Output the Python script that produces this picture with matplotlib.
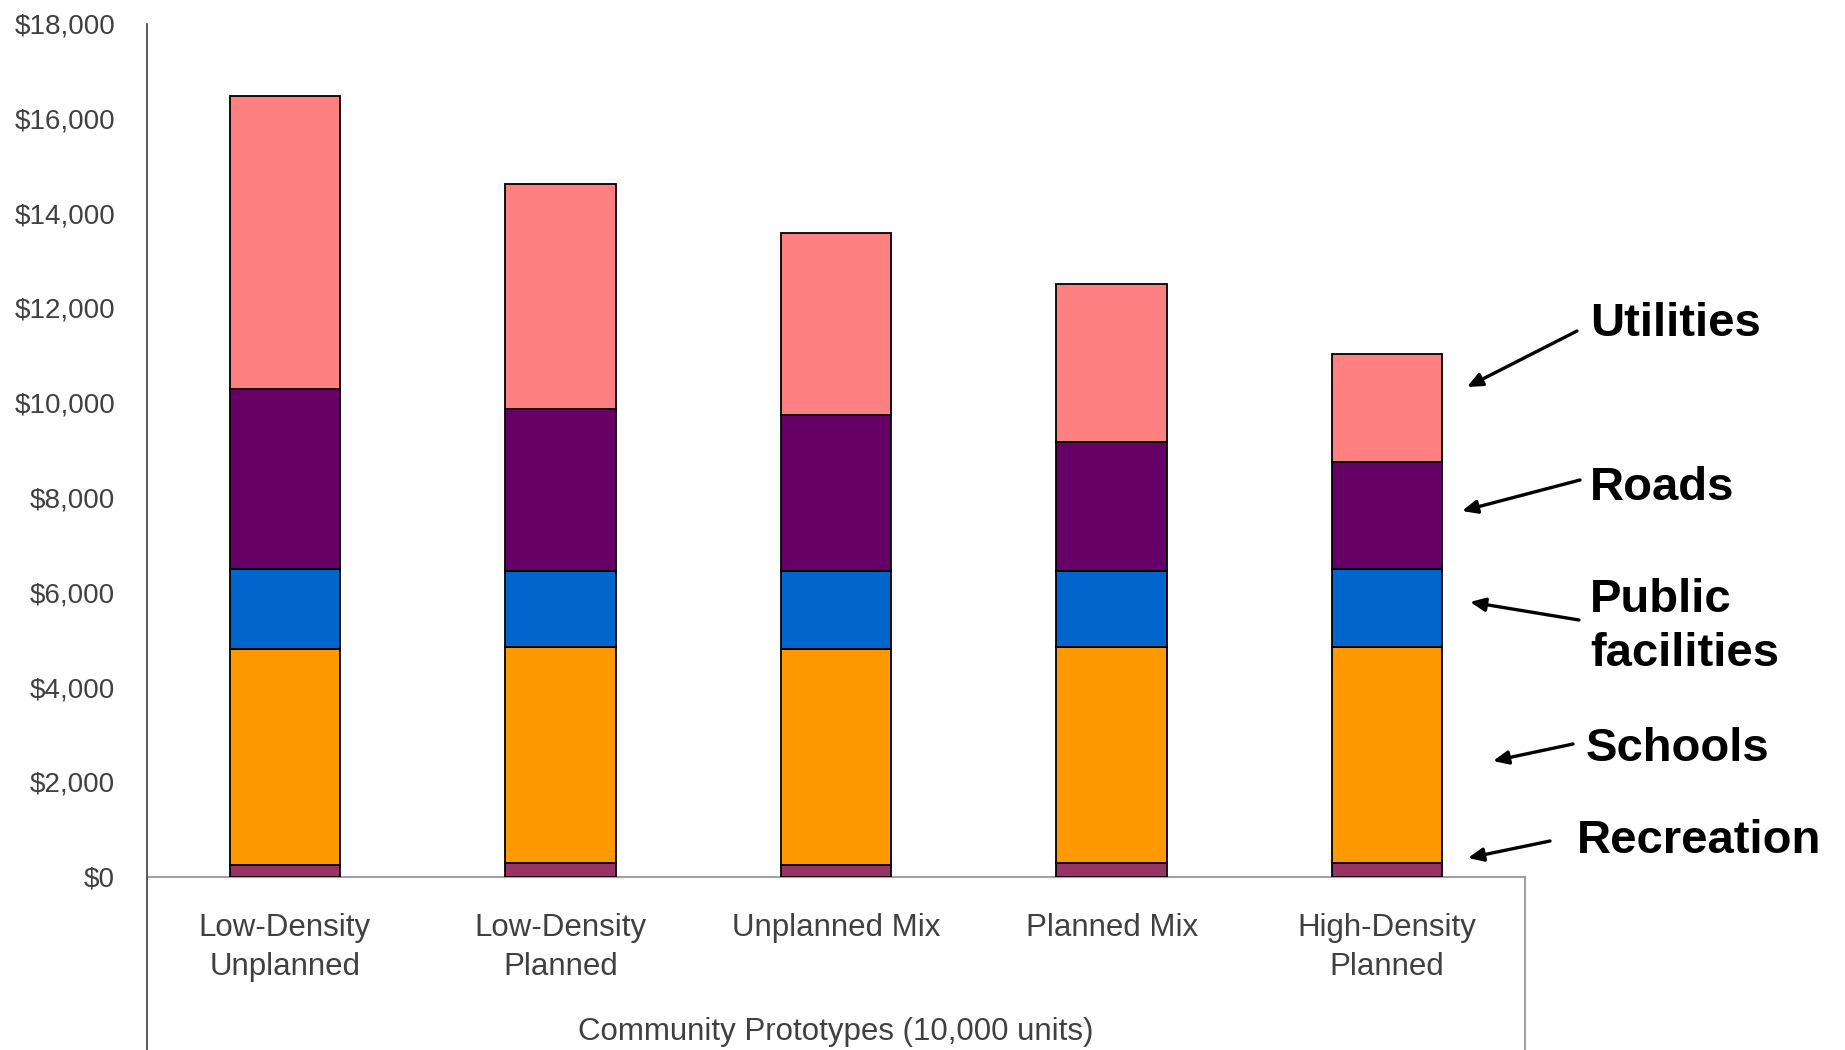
import matplotlib
matplotlib.use("Agg")
import matplotlib.pyplot as plt
from matplotlib.lines import Line2D
from matplotlib.ticker import FuncFormatter, MultipleLocator
import numpy as np

plt.rcParams['font.family'] = ['Liberation Sans', 'DejaVu Sans']

categories = ["Low-Density\nUnplanned", "Low-Density\nPlanned", "Unplanned Mix",
              "Planned Mix", "High-Density\nPlanned"]
recreation = [250, 290, 250, 290, 290]
schools = [4560, 4560, 4560, 4560, 4560]
public_facilities = [1670, 1600, 1640, 1600, 1630]
roads = [3800, 3420, 3280, 2720, 2270]
utilities = [6190, 4750, 3850, 3330, 2270]

series = [recreation, schools, public_facilities, roads, utilities]
colors = ["#993366", "#FF9900", "#0066CC", "#660066", "#FF8080"]

W, H = 1845, 1050
fig = plt.figure(figsize=(W / 100, H / 100), dpi=100)
ax_l, ax_r, ax_b, ax_t = 147, 1525, 876.6, 23.5
ax = fig.add_axes([ax_l / W, 1 - ax_b / H, (ax_r - ax_l) / W, (ax_b - ax_t) / H])

x = np.arange(len(categories))
bottom = np.zeros(len(categories))
for vals, c in zip(series, colors):
    ax.bar(x, vals, width=0.4, bottom=bottom, color=c, edgecolor="black",
           linewidth=1.3, zorder=3)
    bottom += np.array(vals)

ax.set_xlim(-0.5, len(categories) - 0.5)
ax.set_ylim(0, 18000)
ax.yaxis.set_major_locator(MultipleLocator(2000))
ax.yaxis.set_major_formatter(FuncFormatter(lambda v, p: f"${v:,.0f}"))
ax.set_xticks(x)
ax.set_xticklabels(categories, fontsize=22.5, color="#404040", linespacing=1.42)
ax.tick_params(axis="x", length=0, pad=26)
ax.tick_params(axis="y", length=0, pad=23, labelsize=20, labelcolor="#404040")

for s in ["top", "right"]:
    ax.spines[s].set_visible(False)
ax.spines["left"].set_color("#404040")
ax.spines["left"].set_linewidth(1.2)
ax.spines["bottom"].set_color("#A0A0A0")
ax.spines["bottom"].set_linewidth(1.5)

# extension lines below the axis
fig.add_artist(Line2D([ax_l / W, ax_l / W], [0, 1 - ax_b / H], color="#404040", lw=1.2))
fig.add_artist(Line2D([ax_r / W, ax_r / W], [0, 1 - ax_b / H], color="#A0A0A0", lw=1.5))

fig.text(836 / W, 1 - 1032 / H, "Community Prototypes (10,000 units)", fontsize=22.5,
         color="#404040", ha="center", va="center")

# annotations
labels = [
    ("Utilities", (1590, 324), (1577, 331), (1467, 387)),
    ("Roads", (1590, 488), (1580, 480), (1462, 511)),
    ("Public\nfacilities", (1590, 627), (1579, 620), (1470, 602)),
    ("Schools", (1586, 749), (1573, 744), (1493, 761)),
    ("Recreation", (1577, 841), (1550, 841), (1468, 858)),
]
for txt, tpos, tail, head in labels:
    fig.text(tpos[0] / W, 1 - tpos[1] / H, txt, fontsize=34, fontweight="bold",
             ha="left", va="center", linespacing=1.3, color="black")
    ax.annotate("", xy=(head[0] / W, 1 - head[1] / H), xycoords="figure fraction",
                xytext=(tail[0] / W, 1 - tail[1] / H), textcoords="figure fraction",
                arrowprops=dict(arrowstyle="-|>,head_length=0.9,head_width=0.4",
                                color="black", lw=2.4, shrinkA=0, shrinkB=0),
                annotation_clip=False)

fig.savefig("out.png", dpi=100, facecolor="white")
